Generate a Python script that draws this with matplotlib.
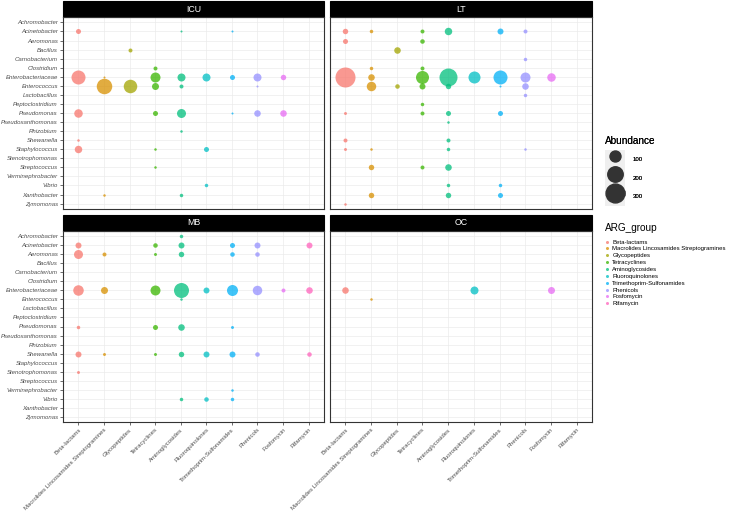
import matplotlib
matplotlib.use("Agg")
import matplotlib.pyplot as plt
from matplotlib.lines import Line2D
from matplotlib.patches import Rectangle
from matplotlib.legend_handler import HandlerTuple
import numpy as np

plt.rcParams["font.family"] = ["Liberation Sans", "DejaVu Sans"]

genera = ["Achromobacter", "Acinetobacter", "Aeromonas", "Bacillus", "Carnobacterium",
          "Clostridium", "Enterobacteriaceae", "Enterococcus", "Lactobacillus",
          "Peptoclostridium", "Pseudomonas", "Pseudoxanthomonas", "Rhizobium",
          "Shewanella", "Staphylococcus", "Stenotrophomonas", "Streptococcus",
          "Verminephrobacter", "Vibrio", "Xanthobacter", "Zymomonas"]

arg_groups = ["Beta-lactams", "Macrolides Lincosamides Streptogramines", "Glycopeptides",
              "Tetracyclines", "Aminoglycosides", "Fluoroquinolones",
              "Trimethoprim-Sulfonamides", "Phenicols", "Fosfomycin", "Rifamycin"]

colors = ["#F8766D", "#D89000", "#A3A500", "#39B600", "#00BF7D",
          "#00BFC4", "#00B0F6", "#9590FF", "#E76BF3", "#FF62BC"]

# abundance per genus, one value per ARG group (0 = absent)
icu = {
    "Acinetobacter":      [19, 0, 0, 0, 1, 0, 1, 0, 0, 0],
    "Bacillus":           [0, 0, 11, 0, 0, 0, 0, 0, 0, 0],
    "Clostridium":        [0, 0, 0, 11, 0, 0, 0, 0, 0, 0],
    "Enterobacteriaceae": [164, 1, 0, 82, 52, 52, 19, 52, 23, 0],
    "Enterococcus":       [0, 201, 152, 39, 11, 0, 0, 1, 0, 0],
    "Pseudomonas":        [59, 0, 0, 19, 66, 0, 1, 34, 34, 0],
    "Rhizobium":          [0, 0, 0, 0, 3, 0, 0, 0, 0, 0],
    "Shewanella":         [3, 0, 0, 0, 0, 0, 0, 0, 0, 0],
    "Staphylococcus":     [45, 0, 0, 3, 0, 19, 0, 0, 0, 0],
    "Streptococcus":      [0, 0, 0, 3, 0, 0, 0, 0, 0, 0],
    "Vibrio":             [0, 0, 0, 0, 0, 8, 0, 0, 0, 0],
    "Xanthobacter":       [0, 3, 0, 0, 8, 0, 0, 0, 0, 0],
}

lt = {
    "Acinetobacter":      [23, 8, 0, 11, 45, 0, 28, 11, 0, 0],
    "Aeromonas":          [19, 0, 0, 15, 0, 0, 0, 0, 0, 0],
    "Bacillus":           [0, 0, 34, 0, 0, 0, 0, 0, 0, 0],
    "Carnobacterium":     [0, 0, 0, 0, 0, 0, 0, 8, 0, 0],
    "Clostridium":        [0, 8, 0, 11, 0, 0, 0, 0, 0, 0],
    "Enterobacteriaceae": [337, 34, 0, 141, 272, 120, 164, 82, 59, 0],
    "Enterococcus":       [0, 74, 15, 28, 23, 0, 1, 34, 0, 0],
    "Lactobacillus":      [0, 0, 0, 0, 0, 0, 0, 8, 0, 0],
    "Peptoclostridium":   [0, 0, 0, 8, 0, 0, 0, 0, 0, 0],
    "Pseudomonas":        [5, 0, 0, 11, 19, 0, 19, 0, 0, 0],
    "Pseudoxanthomonas":  [0, 0, 0, 0, 3, 0, 0, 0, 0, 0],
    "Shewanella":         [11, 0, 0, 0, 11, 0, 0, 0, 0, 0],
    "Staphylococcus":     [5, 3, 0, 0, 8, 0, 0, 3, 0, 0],
    "Streptococcus":      [0, 23, 0, 11, 34, 0, 0, 0, 0, 0],
    "Vibrio":             [0, 0, 0, 0, 8, 0, 8, 0, 0, 0],
    "Xanthobacter":       [0, 23, 0, 0, 23, 0, 19, 0, 0, 0],
    "Zymomonas":          [3, 0, 0, 0, 0, 0, 0, 0, 0, 0],
}

mb = {
    "Achromobacter":      [0, 0, 0, 0, 8, 0, 0, 0, 0, 0],
    "Acinetobacter":      [28, 0, 0, 15, 28, 0, 19, 28, 0, 28],
    "Aeromonas":          [66, 11, 0, 5, 23, 0, 15, 15, 0, 0],
    "Enterobacteriaceae": [91, 39, 0, 82, 188, 28, 100, 74, 11, 34],
    "Enterococcus":       [0, 0, 0, 0, 3, 0, 0, 0, 0, 0],
    "Pseudomonas":        [8, 0, 0, 19, 34, 0, 5, 0, 0, 0],
    "Shewanella":         [28, 5, 0, 5, 23, 28, 28, 15, 0, 15],
    "Stenotrophomonas":   [5, 0, 0, 0, 0, 0, 0, 0, 0, 0],
    "Verminephrobacter":  [0, 0, 0, 0, 0, 0, 3, 0, 0, 0],
    "Vibrio":             [0, 0, 0, 0, 8, 15, 8, 0, 0, 0],
}

oc = {
    "Enterobacteriaceae": [34, 0, 0, 0, 0, 52, 0, 0, 39, 0],
    "Enterococcus":       [0, 3, 0, 0, 0, 0, 0, 0, 0, 0],
}

sites = ["ICU", "LT", "MB", "OC"]
site_data = [icu, lt, mb, oc]
legend_sizes = [100, 200, 300]


def diam_pt(v):
    # diameter grows with sqrt(abundance), area scale like ggplot
    return 0.72 * np.sqrt(2.8 + 1.18 * np.asarray(v, dtype=float))


W, H = 733, 513
fig = plt.figure(figsize=(W / 100, H / 100), dpi=100)

# panel boxes in pixels: left, top, right, bottom
boxes = [(63, 17, 324, 209), (330, 17, 592, 209),
         (63, 231, 324, 422), (330, 231, 592, 422)]

grey30 = "#4D4D4D"
grey20 = "#333333"

for i, (site, data) in enumerate(zip(sites, site_data)):
    l, t, r, b = boxes[i]
    ax = fig.add_axes([l / W, 1 - b / H, (r - l) / W, (b - t) / H])
    ax.set_xlim(-0.6, len(arg_groups) - 0.4)
    ax.set_ylim(len(genera) - 0.4, -0.6)
    ax.set_xticks(range(len(arg_groups)))
    ax.set_yticks(range(len(genera)))
    ax.grid(True, color="#EBEBEB", lw=0.5)
    ax.set_axisbelow(True)
    for sp in ax.spines.values():
        sp.set_color(grey20)
        sp.set_linewidth(0.8)

    for g, vals in data.items():
        yi = genera.index(g)
        for xi, v in enumerate(vals):
            if v > 0:
                ax.scatter(xi, yi, s=diam_pt(v) ** 2, color=colors[xi],
                           alpha=0.75, linewidths=0, zorder=3)

    ax.tick_params(length=2.2, width=0.5, color=grey20, labelcolor=grey30, pad=1.5)
    if i % 2 == 0:
        ax.set_yticklabels(genera, fontsize=4.3, style="italic")
    else:
        ax.tick_params(axis="y", left=False, labelleft=False)
    if i >= 2:
        ax.set_xticklabels(arg_groups, fontsize=4.3, rotation=45,
                           ha="right", rotation_mode="anchor")
    else:
        ax.tick_params(axis="x", bottom=False, labelbottom=False)

    # facet strip
    sh = 16 / (b - t)
    ax.add_patch(Rectangle((0, 1), 1, sh, transform=ax.transAxes,
                           facecolor="black", edgecolor="black", lw=0.8,
                           clip_on=False))
    ax.text(0.5, 1 + sh / 2, site, transform=ax.transAxes, color="white",
            fontsize=6.3, ha="center", va="center")

# Abundance legend
size_handles = []
for v in legend_sizes:
    bg = Rectangle((0, 0), 1, 1, facecolor="#EFEFEF", edgecolor="none")
    dot = Line2D([], [], ls="", marker="o", color=grey20, markersize=diam_pt(v))
    size_handles.append((bg, dot))
leg1 = fig.legend(size_handles, [str(v) for v in legend_sizes],
                  handler_map={tuple: HandlerTuple(ndivide=1)},
                  loc="upper left", bbox_to_anchor=(604 / W, 1 - 135 / H),
                  frameon=False, title="Abundance", title_fontsize=7.2,
                  fontsize=4.3, handlelength=3.3, handleheight=4.4,
                  labelspacing=0.0, handletextpad=1.3, borderpad=0.2,
                  borderaxespad=0, alignment="left")
leg1._legend_box.sep = 3

# ARG_group legend
grp_handles = [Line2D([], [], ls="", marker="o", color=c, alpha=0.75,
                      markersize=2.2, markeredgewidth=0) for c in colors]
leg2 = fig.legend(grp_handles, arg_groups, loc="upper left",
                  bbox_to_anchor=(604 / W, 1 - 222 / H), frameon=False,
                  title="ARG_group", title_fontsize=7.2, fontsize=4.3,
                  handlelength=0.6, handletextpad=0.6, labelspacing=0.28,
                  borderpad=0.2, borderaxespad=0, alignment="left")
leg2._legend_box.sep = 4.5
fig.add_artist(leg1)

fig.savefig("out.png", dpi=100)
